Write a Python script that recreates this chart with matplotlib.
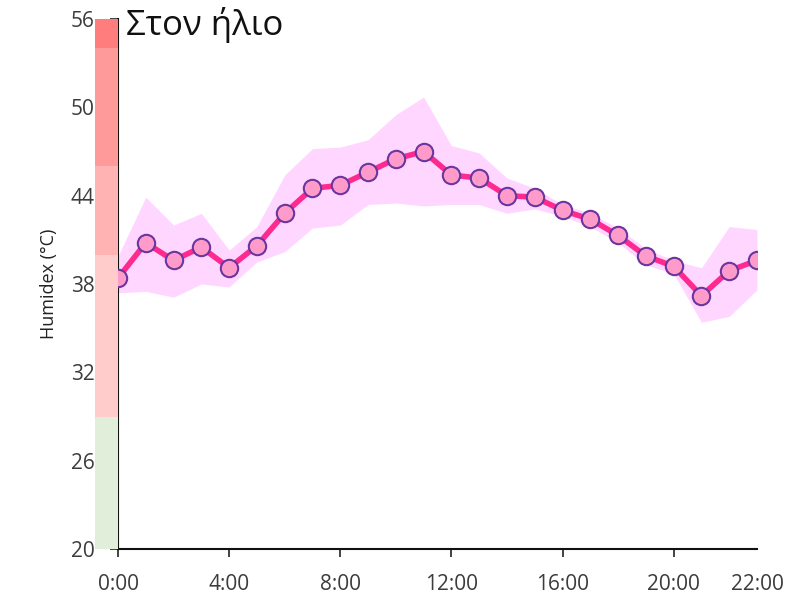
import matplotlib
matplotlib.use("Agg")
import matplotlib.pyplot as plt
import numpy as np

plt.rcParams.update({"font.family": ["Open Sans", "DejaVu Sans"]})

# hourly humidex in the sun, with min/max envelope
hours = list(range(24))
humidex = [38.4, 40.8, 39.6, 40.5, 39.1, 40.6, 42.8, 44.5, 44.7, 45.6, 46.5, 47.0,
           45.4, 45.2, 44.0, 43.9, 43.0, 42.4, 41.3, 39.9, 39.2, 37.2, 38.9, 39.6]
upper = [39.9, 43.9, 42.0, 42.8, 40.3, 41.9, 45.4, 47.2, 47.3, 47.8, 49.5, 50.7,
         47.4, 46.9, 45.2, 44.5, 43.4, 42.8, 41.8, 40.4, 39.6, 39.1, 41.9, 41.7]
lower = [37.4, 37.5, 37.1, 38.0, 37.8, 39.5, 40.2, 41.8, 42.0, 43.4, 43.5, 43.3,
         43.4, 43.4, 42.8, 43.1, 42.6, 41.9, 40.8, 39.3, 38.7, 35.4, 35.8, 37.6]

# humidex comfort zones (lower, upper, colour)
zone_edges = [20, 29, 40, 46, 54, 56]
zone_colors = ["#e1eed9", "#ffcbcb", "#ffb3b3", "#ff9a9a", "#ff7d7d"]

yticks = [20, 26, 32, 38, 44, 50, 56]
xticks = [0, 4, 8, 12, 16, 20, 23]
xticklabels = ["0:00", "4:00", "8:00", "12:00", "16:00", "20:00", "22:00"]

fig = plt.figure(figsize=(7.89, 6.06), dpi=100)
ax = fig.add_axes([118 / 789, 1 - 549 / 606, 639 / 789, 530 / 606])
strip = fig.add_axes([95 / 789, 1 - 549 / 606, 23 / 789, 530 / 606], sharey=ax)

for lo, hi, c in zip(zone_edges[:-1], zone_edges[1:], zone_colors):
    strip.axhspan(lo, hi, color=c, lw=0)
strip.set_xlim(0, 1)
strip.axis("off")

ax.fill_between(hours, lower, upper, color="#ffd6ff", lw=0, zorder=1)
ax.plot(hours, humidex, "-", color="#ff2a8f", lw=4, zorder=2)
ax.plot(hours, humidex, "o", ms=12.5, mfc="#ff9bcb", mec="#6b35a0", mew=1.5, zorder=3)

ax.set_xlim(0, 23)
ax.set_ylim(20, 56)
ax.set_yticks(yticks)
ax.set_xticks(xticks)
ax.set_xticklabels(xticklabels)
ax.xaxis.get_major_ticks()[-1].tick1line.set_visible(False)
ax.tick_params(labelsize=15, labelcolor="#3c3c3c", length=6, width=1.2, color="#222222")
ax.tick_params(axis="y", pad=11)
ax.tick_params(axis="x", pad=12)
for s in ["top", "right"]:
    ax.spines[s].set_visible(False)
for s in ["left", "bottom"]:
    ax.spines[s].set_linewidth(1.5)
    ax.spines[s].set_color("#111111")
ax.set_ylabel("Humidex (°C)", fontsize=13, color="#222222", labelpad=9)

fig.text(126 / 789, 1 - 25 / 606, "Στον ήλιο", fontsize=25, ha="left", va="center", color="#111111")

fig.savefig("out.png", dpi=100)
